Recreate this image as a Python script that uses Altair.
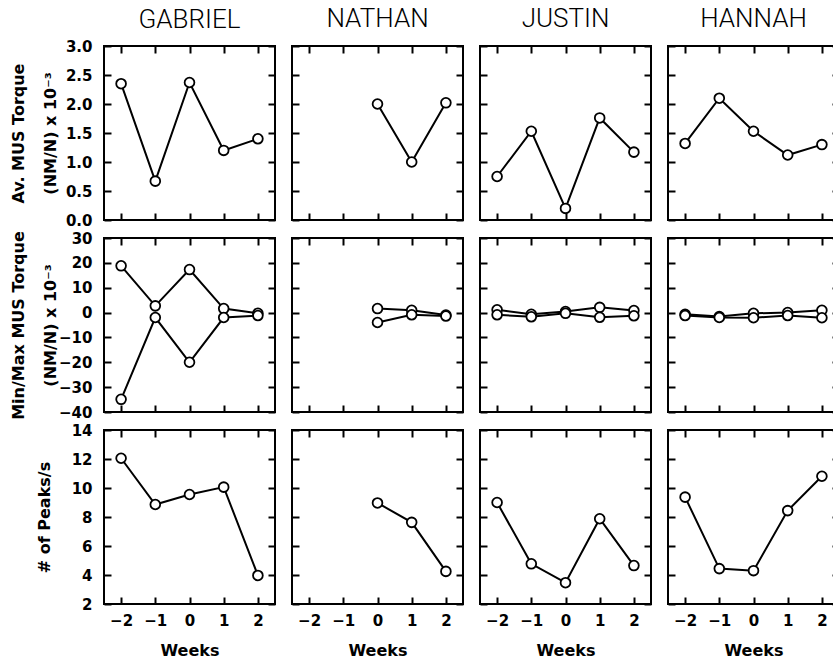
import altair as alt
import pandas as pd

# ---------------- data ----------------
weeks = [-2, -1, 0, 1, 2]
nathan_weeks = [0, 1, 2]
subjects = ["GABRIEL", "NATHAN", "JUSTIN", "HANNAH"]

# Row 1: average MUS torque (NM/N) x 10^-3
avg_gabriel = [2.35, 0.67, 2.37, 1.20, 1.40]
avg_nathan = [2.00, 1.00, 2.02]
avg_justin = [0.75, 1.53, 0.20, 1.76, 1.17]
avg_hannah = [1.32, 2.10, 1.53, 1.12, 1.30]

# Row 2: max / min MUS torque (NM/N) x 10^-3
max_gabriel = [18.8, 2.7, 17.3, 1.6, -0.3]
min_gabriel = [-34.9, -2.0, -20.0, -2.0, -1.2]
max_nathan = [1.6, 0.9, -1.0]
min_nathan = [-4.0, -0.9, -1.4]
max_justin = [1.1, -0.7, 0.4, 2.1, 0.8]
min_justin = [-0.9, -1.7, -0.3, -1.9, -1.3]
max_hannah = [-0.7, -1.6, -0.3, 0.0, 0.9]
min_hannah = [-1.2, -2.0, -2.1, -1.2, -2.1]

# Row 3: number of peaks per second
peaks_gabriel = [12.05, 8.86, 9.55, 10.06, 3.97]
peaks_nathan = [8.97, 7.63, 4.25]
peaks_justin = [9.00, 4.77, 3.47, 7.88, 4.65]
peaks_hannah = [9.37, 4.44, 4.30, 8.44, 10.81]

row1 = {"GABRIEL": (weeks, [avg_gabriel]), "NATHAN": (nathan_weeks, [avg_nathan]),
        "JUSTIN": (weeks, [avg_justin]), "HANNAH": (weeks, [avg_hannah])}
row2 = {"GABRIEL": (weeks, [max_gabriel, min_gabriel]), "NATHAN": (nathan_weeks, [max_nathan, min_nathan]),
        "JUSTIN": (weeks, [max_justin, min_justin]), "HANNAH": (weeks, [max_hannah, min_hannah])}
row3 = {"GABRIEL": (weeks, [peaks_gabriel]), "NATHAN": (nathan_weeks, [peaks_nathan]),
        "JUSTIN": (weeks, [peaks_justin]), "HANNAH": (weeks, [peaks_hannah])}

y1_ticks = [0.0, 0.5, 1.0, 1.5, 2.0, 2.5, 3.0]
y2_ticks = [-40, -30, -20, -10, 0, 10, 20, 30]
y3_ticks = [2, 4, 6, 8, 10, 12, 14]

rows_spec = [
    (row1, [0, 3], y1_ticks, ".1f", ["Av. MUS Torque", "(NM/N) x 10\u207b\u00b3"], -93),
    (row2, [-40, 30], y2_ticks, "d", ["Min/Max MUS Torque", "(NM/N) x 10\u207b\u00b3"], -93),
    (row3, [2, 14], y3_ticks, "d", "# of Peaks/s", -67),
]

W, H = 171, 174
TICK = 7
LFONT = "DejaVu Sans"


def make_df(wk, series_list):
    recs = []
    for si, vals in enumerate(series_list):
        for w, v in zip(wk, vals):
            recs.append({"week": w, "value": v, "series": si})
    return pd.DataFrame(recs)


def panel(df, ydom, yticks, yfmt, ytitle, title_x, col_idx, row_idx, col_name):
    show_y = col_idx == 0
    show_x = row_idx == 2
    xs = alt.Scale(domain=[-2.5, 2.5], nice=False, zero=False)
    ys = alt.Scale(domain=ydom, nice=False, zero=False)
    ax_x = alt.Axis(orient="bottom", values=weeks, offset=-TICK, tickSize=TICK, tickWidth=2,
                    tickColor="black", domain=False, grid=False, labels=show_x,
                    labelPadding=9, format="d",
                    title="Weeks" if show_x else None, titlePadding=14)
    yargs = dict(orient="left", values=yticks, offset=-TICK, tickSize=TICK, tickWidth=2,
                 tickColor="black", domain=False, grid=False, labels=show_y,
                 labelPadding=12, format=yfmt)
    if show_y:
        yargs.update(title=ytitle, titleLineHeight=32, titleBaseline="middle", titleX=title_x)
    else:
        yargs.update(title=None)
    ax_y = alt.Axis(**yargs)
    ax_x2 = alt.Axis(orient="top", values=weeks, offset=-TICK, tickSize=TICK, tickWidth=2,
                     tickColor="black", domain=False, grid=False, labels=False, title=None)
    ax_y2 = alt.Axis(orient="right", values=yticks, offset=-TICK, tickSize=TICK, tickWidth=2,
                     tickColor="black", domain=False, grid=False, labels=False, title=None)
    base = alt.Chart(df)
    frame = base.mark_point(opacity=0).encode(
        x=alt.X("week:Q", scale=xs, axis=ax_x2),
        y=alt.Y("value:Q", scale=ys, axis=ax_y2),
    )
    line = base.mark_line(color="black", strokeWidth=2).encode(
        x=alt.X("week:Q", scale=xs, axis=ax_x),
        y=alt.Y("value:Q", scale=ys, axis=ax_y),
        detail="series:N",
    )
    pts = base.mark_point(shape="circle", filled=True, fill="white", stroke="black",
                          strokeWidth=1.8, size=95, opacity=1).encode(
        x=alt.X("week:Q", scale=xs, axis=None),
        y=alt.Y("value:Q", scale=ys, axis=None),
        detail="series:N",
    )
    props = dict(width=W, height=H)
    if row_idx == 0:
        props["title"] = alt.TitleParams(col_name, font="Roboto", fontWeight=300, fontSize=26,
                                         color="black", offset=6 if col_idx == 0 else 13,
                                         anchor="middle", frame="group")
    return alt.layer(line, frame, pts).resolve_axis(x="independent", y="independent").properties(**props)


panels = []
for r, (rowdata, ydom, yticks, yfmt, ytitle, tx) in enumerate(rows_spec):
    for c, name in enumerate(subjects):
        wk, series = rowdata[name]
        panels.append(panel(make_df(wk, series), ydom, yticks, yfmt, ytitle, tx, c, r, name))

chart = alt.concat(*panels, columns=4, spacing={"row": 18, "column": 17}, bounds="flush").configure_view(
    stroke="black", strokeWidth=2
).configure_axis(
    labelFont=LFONT, labelFontSize=15, labelFontWeight="bold", labelColor="black",
    titleFont=LFONT, titleFontSize=16, titleFontWeight="bold", titleColor="black",
).properties(
    padding={"left": 8, "top": 5, "right": -8, "bottom": 0}, background="white"
)

chart.save("out.html", embed_options={"renderer": "svg", "actions": False})
